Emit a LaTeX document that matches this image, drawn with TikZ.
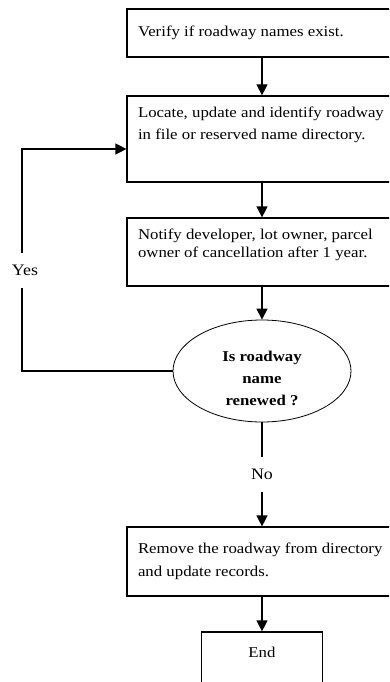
\documentclass[tikz,border=0pt]{standalone}
\usepackage{fontspec}
\setmainfont{Liberation Serif}[FakeStretch=1.12]
\usetikzlibrary{arrows.meta, positioning, shapes.geometric}

\begin{document}
\begin{tikzpicture}[x=1pt, y=-1pt, >={Triangle[length=11pt,width=11pt]}, line width=1.2pt,
    box/.style={draw, rectangle, minimum width=270pt, inner sep=0pt},
    txt/.style={anchor=north west, align=left, inner sep=0pt, font=\fontsize{15}{22}\selectfont},
    ask/.style={draw, ellipse, minimum width=178pt, minimum height=102pt, inner sep=0pt, line width=0.8pt},
    lbl/.style={fill=white, inner xsep=2pt, inner ysep=12pt, font=\fontsize{16}{18}\selectfont}]

    \useasboundingbox (0,0) rectangle (389,682);
    \clip (0,0) rectangle (389,682);

    % --- BOXES ---
    \node[box, minimum height=48pt] (verify) at (262,33) {};
    \node[box, minimum height=86pt] (locate) at (262,139) {};
    \node[box, minimum height=68pt] (notify) at (262,252) {};
    \node[ask] (renewed) at (262,371) {};
    \node[box, minimum height=69pt] (remove) at (262,561.5) {};
    \node[box, minimum width=121pt, minimum height=80pt] (finish) at (262,672) {};

    % --- TEXTS ---
    \node[txt] (verifytxt) at ([shift={(11pt,-17pt)}]verify.north west) {Verify if roadway names exist.};
    \node[txt] (locatetxt) at ([shift={(11pt,-11pt)}]locate.north west) {Locate, update and identify roadway\\in file or reserved name directory.};
    \node[txt, font=\fontsize{15}{18}\selectfont] (notifytxt) at ([shift={(11pt,-11pt)}]notify.north west) {Notify developer, lot owner, parcel\\owner of cancellation after 1 year.};
    \node[txt, font=\fontsize{15}{23}\selectfont] (removetxt) at ([shift={(11pt,-16pt)}]remove.north west) {Remove the roadway from directory\\and update records.};
    \node[txt, anchor=north] (finishtxt) at ([yshift=-15pt]finish.north) {End};
    \node[txt, anchor=center, align=center, font=\fontsize{15}{22}\selectfont\bfseries] (renewedtxt)
        at ([yshift=-7pt]renewed.center) {Is roadway\\name\\renewed ?};

    % --- EDGES ---
    \draw[->] (verify) -- (locate);
    \draw[->] (locate) -- (notify);
    \draw[->] (notify) -- (renewed);
    \draw[->] (renewed) -- node[lbl] (no) {No} (remove);
    \draw[->] (remove) -- (finish);

    % Yes loop back to the locate box
    \coordinate (corner) at (22,371);
    \draw[->] (renewed.west) -- (corner) |- node[lbl, pos=0.227, xshift=3pt] (yes) {Yes} ([yshift=-10pt]locate.west);

\end{tikzpicture}
\end{document}
